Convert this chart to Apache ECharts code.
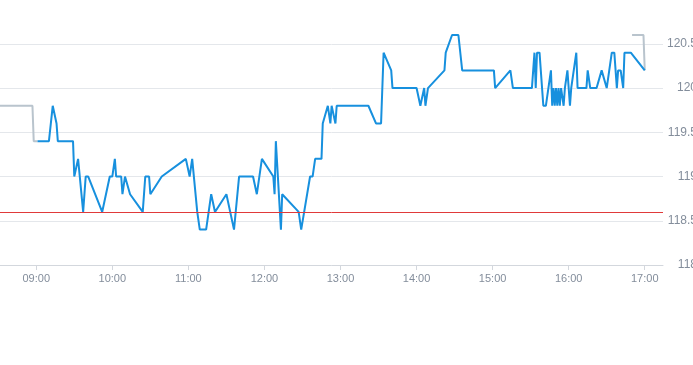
<!DOCTYPE html>
<html>
<head>
<meta charset="utf-8">
<script src="https://cdn.jsdelivr.net/npm/echarts@6/dist/echarts.min.js"></script>
<style>
html,body{margin:0;padding:0;background:#fff;}
#chart{width:693px;height:365px;}
</style>
</head>
<body>
<div id="chart"></div>
<script>
// main trading session
var mainTimes = ["09:01","09:10","09:13","09:16","09:17","09:29","09:30","09:33","09:37","09:39","09:41","09:52","09:53","09:58",
"10:00","10:02","10:03","10:07","10:08","10:10","10:14","10:24","10:26","10:29","10:30","10:39","10:58",
"11:01","11:03","11:07","11:09","11:14","11:18","11:21","11:30","11:36","11:40","11:51","11:54","11:58",
"12:07","12:08","12:09","12:13","12:14","12:27","12:29","12:36","12:38","12:40","12:45","12:46","12:50","12:52","12:53","12:56","12:57",
"13:22","13:28","13:32","13:34","13:40","13:41","14:00","14:03","14:06","14:07","14:09","14:10","14:22","14:23","14:24","14:28","14:33","14:36",
"15:01","15:02","15:14","15:16","15:31","15:33","15:34","15:35","15:37","15:40","15:42","15:46","15:47","15:48","15:49","15:50","15:51",
"15:52","15:53","15:54","15:56","15:57","15:59","16:01","16:02","16:06","16:07","16:14","16:15","16:17","16:22","16:26","16:30","16:34","16:36","16:38","16:39","16:41","16:43","16:44","16:49","17:00"];
var mainValues = [119.4,119.4,119.8,119.6,119.4,119.4,119.0,119.2,118.6,119.0,119.0,118.6,118.6,119.0,
119.0,119.2,119.0,119.0,118.8,119.0,118.8,118.6,119.0,119.0,118.8,119.0,119.2,
119.0,119.2,118.6,118.4,118.4,118.8,118.6,118.8,118.4,119.0,119.0,118.8,119.2,
119.0,118.8,119.4,118.4,118.8,118.6,118.4,119.0,119.0,119.2,119.2,119.6,119.8,119.6,119.8,119.6,119.8,
119.8,119.6,119.6,120.4,120.2,120.0,120.0,119.8,120.0,119.8,120.0,120.0,120.2,120.4,120.4,120.6,120.6,120.2,
120.2,120.0,120.2,120.0,120.0,120.4,120.0,120.4,120.4,119.8,119.8,120.2,119.8,120.0,119.8,120.0,119.8,
120.0,119.8,120.0,119.8,120.0,120.2,119.8,120.0,120.4,120.0,120.0,120.2,120.0,120.0,120.2,120.0,120.4,120.4,120.0,120.2,120.2,120.0,120.4,120.4,120.2];

// pre-session and post-session (grey)
var preTimes = ["08:30","08:57","08:58","09:01"];
var preValues = [119.8,119.8,119.4,119.4];
var postTimes = ["16:50","16:59","17:00"];
var postValues = [120.6,120.6,120.2];

var refLevel = 118.6;

function toDate(hm){
  var p = hm.split(":");
  return new Date(2024,0,2,+p[0],+p[1],0).getTime();
}
function pairs(ts, vs){ return ts.map(function(t,i){ return [toDate(t), vs[i]]; }); }

var chart = echarts.init(document.getElementById('chart'), null, {renderer:'canvas'});
var labelColor = '#838d9b';
chart.setOption({
  animation:false,
  grid:{left:0, right:30, top:35, bottom:100, containLabel:false, outerBoundsMode:'none'},
  xAxis:{
    type:'time',
    min:new Date(2024,0,2,8,31,24).getTime(),
    max:new Date(2024,0,2,17,14,24).getTime(),
    minInterval:3600000, maxInterval:3600000,
    splitLine:{show:false},
    axisLine:{lineStyle:{color:'#d3d7dd'}},
    axisTick:{show:true, length:5, lineStyle:{color:'#d3d7dd'}},
    axisLabel:{color:labelColor, fontSize:11, fontFamily:'Liberation Sans, Arial, sans-serif', formatter:'{HH}:{mm}', hideOverlap:false}
  },
  yAxis:{
    type:'value', position:'right',
    min:118, max:120.6, interval:0.5,
    axisLine:{show:false},
    axisTick:{show:false},
    splitLine:{lineStyle:{color:'#e4e7eb'}, showMaxLine:false},
    axisLabel:{color:labelColor, fontSize:12, fontFamily:'Liberation Sans, Arial, sans-serif', align:'right', margin:34, showMaxLabel:false,
      formatter:function(v){ return String(+v.toFixed(1)); }}
  },
  series:[
    {type:'line', data:pairs(preTimes,preValues), showSymbol:false, symbol:'none', lineStyle:{color:'#b9c4cd', width:2}, z:2},
    {type:'line', data:pairs(postTimes,postValues), showSymbol:false, symbol:'none', lineStyle:{color:'#b9c4cd', width:2}, z:2},
    {type:'line', data:pairs(mainTimes,mainValues), showSymbol:false, symbol:'none', lineStyle:{color:'#1790de', width:2}, z:3,
      markLine:{silent:true, symbol:'none', label:{show:false}, lineStyle:{color:'#e03a3a', width:1, type:'solid'}, data:[{yAxis:refLevel}]}}
  ]
});
</script>
</body>
</html>
